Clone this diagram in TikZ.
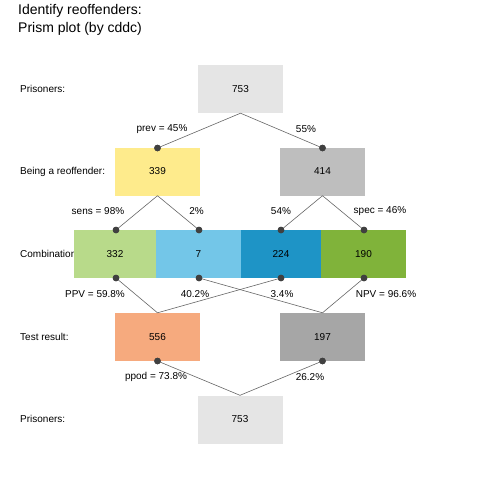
\documentclass[tikz,border=0pt]{standalone}
\usepackage{fontspec}
\setmainfont{Liberation Sans}
\begin{document}
\begin{tikzpicture}[x=1pt,y=-1pt,
  boxst/.style={draw=none,minimum width=85pt,minimum height=48pt,inner sep=0pt,font=\fontsize{10}{11}\selectfont},
  rowlab/.style={anchor=west,inner sep=0pt,font=\fontsize{10}{11}\selectfont},
  edgelab/.style={inner sep=0pt,font=\fontsize{10}{11}\selectfont},
  conn/.style={draw=black!60,line width=0.6pt},
  dotst/.style={circle,fill=black!75,inner sep=0pt,minimum size=6.5pt}]
\useasboundingbox (0,0) rectangle (480,480);
% title
\node[anchor=north west,align=left,inner sep=0pt,font=\fontsize{14}{17.5}\selectfont] (title) at (18,4.5) {Identify reoffenders:\\Prism plot (by cddc)};
% row labels (drawn before boxes so the box hides overflow)
\node[rowlab] (l1) at (20,88.5) {Prisoners:};
\node[rowlab] (l2) at (20,171.5) {Being a reoffender:};
\node[rowlab] (l3) at (20,254) {Combination:};
\node[rowlab] (l4) at (20,336.5) {Test result:};
\node[rowlab] (l5) at (20,419) {Prisoners:};
% boxes
\node[boxst,fill=black!10] (top) at (240.5,89) {753};
\node[boxst,fill={rgb,255:red,254;green,235;blue,140}] (reo) at (157.5,171.5) {339};
\node[boxst,fill={rgb,255:red,190;green,190;blue,190}] (nreo) at (322.5,171.5) {414};
\node[boxst,minimum width=82pt,fill={rgb,255:red,184;green,218;blue,138}] (tp) at (115,254) {332};
\node[boxst,fill={rgb,255:red,115;green,198;blue,232}] (fn) at (198.5,254) {7};
\node[boxst,minimum width=80pt,fill={rgb,255:red,30;green,148;blue,198}] (fp) at (281,254) {224};
\node[boxst,fill={rgb,255:red,128;green,179;blue,58}] (tn) at (363.5,254) {190};
\node[boxst,fill={rgb,255:red,246;green,170;blue,126}] (pos) at (157.5,337) {556};
\node[boxst,fill={rgb,255:red,166;green,166;blue,166}] (neg) at (322.5,337) {197};
\node[boxst,fill=black!10] (bot) at (240,419.5) {753};
% dots
\node[dotst] (dreo) at (157.5,148) {};
\node[dotst] (dnreo) at (322.5,148) {};
\node[dotst] (dtp1) at (116,230) {};
\node[dotst] (dfn1) at (199,230) {};
\node[dotst] (dfp1) at (281,230) {};
\node[dotst] (dtn1) at (364,230) {};
\node[dotst] (dtp2) at (116,278) {};
\node[dotst] (dfn2) at (199,278) {};
\node[dotst] (dfp2) at (281,278) {};
\node[dotst] (dtn2) at (364,278) {};
\node[dotst] (dpos) at (157.5,361) {};
\node[dotst] (dneg) at (322.5,361) {};
% connectors
\draw[conn] (top.south) -- (dreo.center);
\draw[conn] (top.south) -- (dnreo.center);
\draw[conn] (reo.south) -- (dtp1.center);
\draw[conn] (reo.south) -- (dfn1.center);
\draw[conn] (nreo.south) -- (dfp1.center);
\draw[conn] (nreo.south) -- (dtn1.center);
\draw[conn] (dtp2.center) -- (pos.north);
\draw[conn] (dfp2.center) -- (pos.north);
\draw[conn] (dfn2.center) -- (neg.north);
\draw[conn] (dtn2.center) -- (neg.north);
\draw[conn] (dpos.center) -- (bot.north);
\draw[conn] (dneg.center) -- (bot.north);
% redraw dots on top of connectors
\foreach \d in {dreo,dnreo,dtp1,dfn1,dfp1,dtn1,dtp2,dfn2,dfp2,dtn2,dpos,dneg}
  \fill[black!75] (\d.center) circle (3.3pt);
% edge labels
\node[edgelab] (e1) at (162,129) {prev = 45\%};
\node[edgelab] (e2) at (306,129) {55\%};
\node[edgelab] (e3) at (98,211) {sens = 98\%};
\node[edgelab] (e4) at (196.5,211) {2\%};
\node[edgelab] (e5) at (281,211) {54\%};
\node[edgelab] (e6) at (380,211) {spec = 46\%};
\node[edgelab] (e7) at (95,294.5) {PPV = 59.8\%};
\node[edgelab] (e8) at (195,294.5) {40.2\%};
\node[edgelab] (e9) at (282,294.5) {3.4\%};
\node[edgelab] (e10) at (386,294.5) {NPV = 96.6\%};
\node[edgelab] (e11) at (156,377) {ppod = 73.8\%};
\node[edgelab] (e12) at (310,377) {26.2\%};
\end{tikzpicture}
\end{document}
